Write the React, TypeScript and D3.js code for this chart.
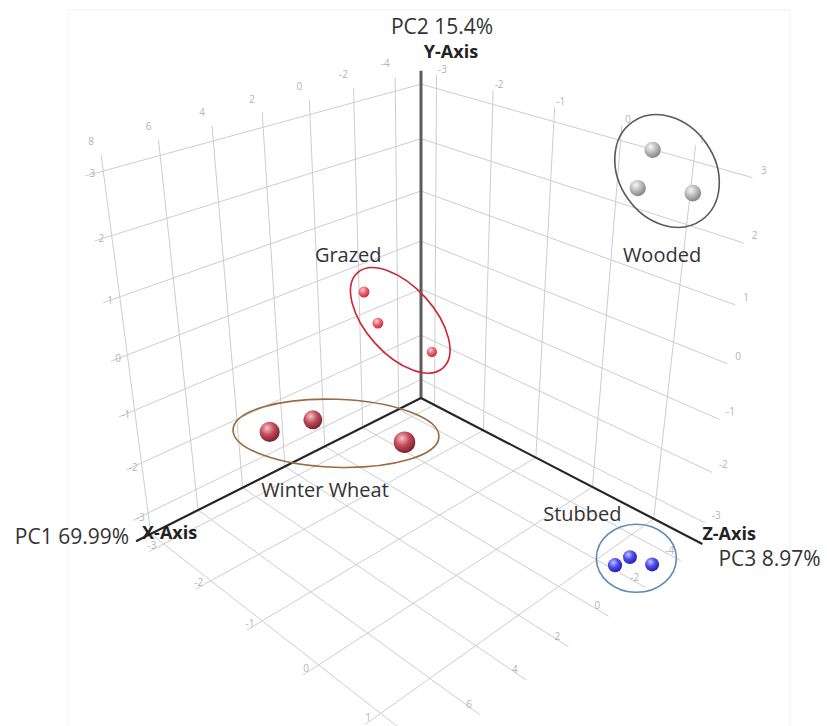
import React from 'react';
import * as d3 from 'd3';

// PCA score ranges of the plot cube and its tick values
const xRange = [-5.3, 8.6];
const yRange = [-3.43, 3.24];
const zRange = [-3.29, 1.74];
const xTicks = [-4, -2, 0, 2, 4, 6, 8];
const yTicks = [-3, -2, -1, 0, 1, 2, 3];
const zTicks = [-3, -2, -1, 0, 1];

const axisNames = ['X-Axis', 'Y-Axis', 'Z-Axis'];
const axisTitles = ['PC1 69.99%', 'PC2 15.4%', 'PC3 8.97%'];

// sample scores [PC1, PC2, PC3] per land use
const groups = ['Wooded', 'Grazed', 'Winter Wheat', 'Stubbed'];
const woodedScores = [[-4.6, 3.13, 0.62], [-3.91, 2.63, 0.64], [-4.6, 2.66, 1.19]];
const grazedScores = [[-1.64, -0.36, -3.04], [-2.31, -1.1, -3.04], [-4.6, -2.0, -2.81]];
const wheatScores = [[7.64, 0.02, -0.78], [5.49, -0.38, -1.03], [6.26, 0.47, 0.73]];
const stubbedScores = [[-1.13, -2.94, 1.49], [-1.95, -3.0, 1.49], [-2.41, -3.11, 1.7]];
const scores = [woodedScores, grazedScores, wheatScores, stubbedScores];

// look of each group: sphere shading, ring and its label
const styles = [
  { light: '#f6f6f6', base: '#bebebe', dark: '#838383', size: 0.05, ring: '#5a5a5a', ell: [6, -6, 60, 48, 55], lab: [-5, 91] },
  { light: '#ffd4d4', base: '#f06470', dark: '#c4303e', size: 0.041, ring: '#cc2636', ell: [9, -2, 64, 34, 48], lab: [-52, -58] },
  { light: '#f6c4c8', base: '#c44c5a', dark: '#7c2230', size: 0.058, ring: '#9c6a40', ell: [7, 2, 103, 34, 2], lab: [-11, 64] },
  { light: '#c4c4ff', base: '#4c4cf2', dark: '#2222a4', size: 0.046, ring: '#5b8ab8', ell: [4, -4, 40, 34, 0], lab: [-54, -37] },
];

const W = 827;
const H = 726;
const FONT = '"Open Sans", "DejaVu Sans", sans-serif';

export default function App() {
  const rad = Math.PI / 180;
  const F = 1190, CX = 421, CY = 338, DIST = 10, LIFT = -0.504, SIDE = 2.78;
  const pitch = 27.8 * rad, yaw = 45.45 * rad;

  const sx = d3.scaleLinear().domain(xRange).range([0, SIDE]);
  const sy = d3.scaleLinear().domain(yRange).range([0, SIDE]);
  const sz = d3.scaleLinear().domain(zRange).range([0, SIDE]);

  // perspective camera looking down at the back-bottom corner of the cube
  const proj = (X: number, Y: number, Z: number) => {
    const u = sx(X), v = sy(Y), w = sz(Z);
    const x = -u * Math.sin(yaw) + w * Math.cos(yaw);
    const z = -u * Math.cos(yaw) - w * Math.sin(yaw);
    const yc = v * Math.cos(pitch) + z * Math.sin(pitch) + LIFT;
    const zc = -v * Math.sin(pitch) + z * Math.cos(pitch) + DIST;
    return [CX + (F * x) / zc, CY - (F * yc) / zc, zc];
  };

  const [x0, x1] = xRange, [y0, y1] = yRange, [z0, z1] = zRange;
  const seg = (a: number[], b: number[]) => `M${a[0]},${a[1]}L${b[0]},${b[1]}`;

  const grid: string[] = [];
  xTicks.forEach(x => {
    grid.push(seg(proj(x, y0, z0), proj(x, y1, z0))); // left wall
    grid.push(seg(proj(x, y0, z0), proj(x, y0, z1))); // floor
  });
  zTicks.forEach(z => {
    grid.push(seg(proj(x0, y0, z), proj(x0, y1, z))); // right wall
    grid.push(seg(proj(x0, y0, z), proj(x1, y0, z))); // floor
  });
  yTicks.forEach(y => {
    grid.push(seg(proj(x0, y, z0), proj(x1, y, z0)));
    grid.push(seg(proj(x0, y, z0), proj(x0, y, z1)));
  });

  const tickLabels: { p: number[]; dx: number; dy: number; t: number }[] = [];
  xTicks.forEach(x => {
    tickLabels.push({ p: proj(x, y1, z0), dx: -10, dy: -10, t: x });
    tickLabels.push({ p: proj(x, y0, z1), dx: -11, dy: -7, t: x });
  });
  zTicks.forEach(z => {
    tickLabels.push({ p: proj(x0, y1, z), dx: 6, dy: -2, t: z });
    tickLabels.push({ p: proj(x1, y0, z), dx: 3, dy: -3, t: z });
  });
  yTicks.forEach(y => {
    tickLabels.push({ p: proj(x1, y, z0), dx: 7, dy: 1, t: y });
    tickLabels.push({ p: proj(x0, y, z1), dx: 11, dy: -4, t: y });
  });
  const shownTicks = tickLabels.filter(l => l.p[1] + l.dy < H);

  const origin = proj(x0, y0, z0);
  const xEnd = proj(x1, y0, z0);
  const yEnd = proj(x0, y1, z0);
  const zEnd = proj(x0, y0, z1);

  const balls = scores
    .flatMap((pts, g) => pts.map(d => ({ g, p: proj(d[0], d[1], d[2]) })))
    .sort((a, b) => b.p[2] - a.p[2]);

  const rings = scores.map((pts, g) => {
    const pp = pts.map(d => proj(d[0], d[1], d[2]));
    const [dx, dy, rx, ry, rot] = styles[g].ell;
    const cx = d3.mean(pp, p => p[0])! + dx;
    const cy = d3.mean(pp, p => p[1])! + dy;
    return { g, cx, cy, rx, ry, rot };
  });

  return (
    <svg width={W} height={H} style={{ position: 'absolute', left: 0, top: 0, background: '#fff' }}>
      <defs>
        {styles.map((s, i) => (
          <radialGradient key={i} id={`ball-${i}`} cx="38%" cy="32%" r="68%">
            <stop offset="0%" stopColor={s.light} />
            <stop offset="50%" stopColor={s.base} />
            <stop offset="100%" stopColor={s.dark} />
          </radialGradient>
        ))}
      </defs>
      <rect x={68} y={10} width={722} height={730} fill="none" stroke="#f1f1f1" />

      <g fill="none" stroke="#cdcdcd" strokeWidth={1}>
        {grid.map((d, i) => <path key={i} d={d} />)}
      </g>
      <g fontFamily={FONT} fontSize={10} fill="#b4b4b4" textAnchor="middle">
        {shownTicks.map((l, i) => (
          <text key={i} x={l.p[0] + l.dx} y={l.p[1] + l.dy}>{l.t}</text>
        ))}
      </g>

      <path d={seg(origin, yEnd)} stroke="#5c5c5c" strokeWidth={3} />
      <path d={seg(origin, xEnd)} stroke="#262626" strokeWidth={2.2} />
      <path d={seg(origin, zEnd)} stroke="#262626" strokeWidth={2.2} />

      {balls.map((b, i) => (
        <circle key={i} cx={b.p[0]} cy={b.p[1]} r={(F * styles[b.g].size) / b.p[2]}
          fill={`url(#ball-${b.g})`} />
      ))}

      {rings.map(r => (
        <ellipse key={r.g} cx={r.cx} cy={r.cy} rx={r.rx} ry={r.ry}
          transform={`rotate(${r.rot} ${r.cx} ${r.cy})`}
          fill="none" stroke={styles[r.g].ring} strokeWidth={1.6} />
      ))}

      <g fontFamily={FONT} fontSize={20} fill="#333">
        {rings.map(r => (
          <text key={r.g} x={r.cx + styles[r.g].lab[0]} y={r.cy + styles[r.g].lab[1]} textAnchor="middle">
            {groups[r.g]}
          </text>
        ))}
      </g>

      <g fontFamily={FONT} fill="#333">
        <text x={yEnd[0] + 21} y={yEnd[1] - 37} fontSize={21} textAnchor="middle">{axisTitles[1]}</text>
        <text x={yEnd[0] + 30} y={yEnd[1] - 13} fontSize={18} fontWeight={700} fill="#222" textAnchor="middle">{axisNames[1]}</text>
        <text x={xEnd[0] - 7} y={xEnd[1] + 3} fontSize={21} textAnchor="end">{axisTitles[0]}</text>
        <text x={xEnd[0] + 6} y={xEnd[1] - 2} fontSize={18} fontWeight={700} fill="#222">{axisNames[0]}</text>
        <text x={zEnd[0]} y={zEnd[1] - 4} fontSize={18} fontWeight={700} fill="#222">{axisNames[2]}</text>
        <text x={zEnd[0] + 16} y={zEnd[1] + 22} fontSize={21}>{axisTitles[2]}</text>
      </g>
    </svg>
  );
}
